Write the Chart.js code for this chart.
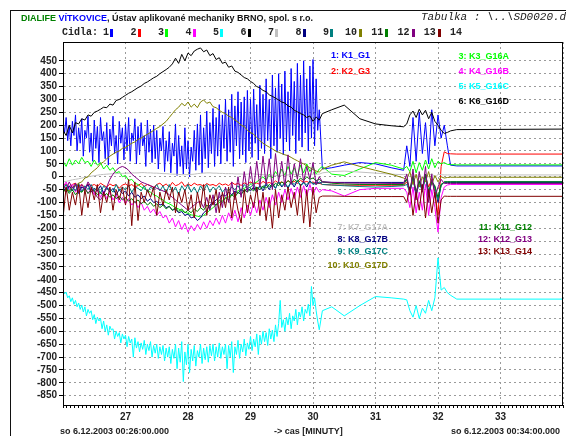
<!DOCTYPE html>
<html>
<head>
<meta charset="utf-8">
<script src="https://cdn.jsdelivr.net/npm/chart.js@4.4.1/dist/chart.umd.min.js"></script>
<style>
  body { margin: 0; background: #fff; }
  #wrap { position: relative; width: 566px; height: 436px; overflow: hidden; font-family: Arial, "Liberation Sans", sans-serif; }
  #frame { position: absolute; left: 10px; top: 10px; width: 600px; height: 500px; border: 1px solid #111; }
  #chart { position: absolute; left: 0; top: 0; }
  .t { position: absolute; white-space: nowrap; font-weight: bold; line-height: 12px; }
  .mono { font-family: "Liberation Mono", "Courier New", monospace; }
  .bar { position: absolute; width: 3px; height: 8px; top: 29px; }
</style>
</head>
<body>
<div id="wrap">
  <div id="frame"></div>
  <canvas id="chart" width="566" height="436"></canvas>
  <div class="t" style="left:21px; top:12px; font-size:9px; color:#111;">
    <span style="color:#008000">DIALIFE</span> <span style="color:#0000ff">VÍTKOVICE</span>, Ústav aplikované mechaniky BRNO, spol. s r.o.
  </div>
  <div class="t mono" style="left:421px; top:11px; font-size:11px; font-style:italic; font-weight:normal; color:#222;">Tabulka : \..\SD0020.db</div>
  <div class="t mono" style="left:62px; top:27px; font-size:10px; color:#222;">Cidla:</div>
  <div id="cidla"></div>
  <div id="labels"></div>
  <div class="t" style="left:60px; top:425px; font-size:9px; color:#222;">so 6.12.2003 00:26:00.000</div>
  <div class="t" style="left:274px; top:425px; font-size:9px; color:#222;">-&gt; cas [MINUTY]</div>
  <div class="t" style="right:6px; top:425px; font-size:9px; color:#222;">so 6.12.2003 00:34:00.000</div>
</div>
<script>
// time in minutes
const tMain = [
  26.00,26.05,26.10,26.15,26.20,26.25,26.30,26.35,26.40,26.45,
  26.50,26.55,26.60,26.65,26.70,26.75,26.80,26.85,26.90,26.95,
  27.00,27.05,27.10,27.15,27.20,27.25,27.30,27.35,27.40,27.45,
  27.50,27.55,27.60,27.65,27.70,27.75,27.80,27.85,27.90,27.95,
  28.00,28.05,28.10,28.15,28.20,28.25,28.30,28.35,28.40,28.45,
  28.50,28.55,28.60,28.65,28.70,28.75,28.80,28.85,28.90,28.95,
  29.00,29.05,29.10,29.15,29.20,29.25,29.30,29.35,29.40,29.45,
  29.50,29.55,29.60,29.65,29.70,29.75,29.80,29.85,29.90,29.95,
  30.00,30.05,30.10
];
// finer sampling for the two noisiest channels (K1, K5)
const tFine = [
  26.000,26.025,26.050,26.075,26.100,26.125,26.150,26.175,26.200,26.225,26.250,26.275,26.300,26.325,26.350,26.375,26.400,26.425,26.450,26.475,
  26.500,26.525,26.550,26.575,26.600,26.625,26.650,26.675,26.700,26.725,26.750,26.775,26.800,26.825,26.850,26.875,26.900,26.925,26.950,26.975,
  27.000,27.025,27.050,27.075,27.100,27.125,27.150,27.175,27.200,27.225,27.250,27.275,27.300,27.325,27.350,27.375,27.400,27.425,27.450,27.475,
  27.500,27.525,27.550,27.575,27.600,27.625,27.650,27.675,27.700,27.725,27.750,27.775,27.800,27.825,27.850,27.875,27.900,27.925,27.950,27.975,
  28.000,28.025,28.050,28.075,28.100,28.125,28.150,28.175,28.200,28.225,28.250,28.275,28.300,28.325,28.350,28.375,28.400,28.425,28.450,28.475,
  28.500,28.525,28.550,28.575,28.600,28.625,28.650,28.675,28.700,28.725,28.750,28.775,28.800,28.825,28.850,28.875,28.900,28.925,28.950,28.975,
  29.000,29.025,29.050,29.075,29.100,29.125,29.150,29.175,29.200,29.225,29.250,29.275,29.300,29.325,29.350,29.375,29.400,29.425,29.450,29.475,
  29.500,29.525,29.550,29.575,29.600,29.625,29.650,29.675,29.700,29.725,29.750,29.775,29.800,29.825,29.850,29.875,29.900,29.925,29.950,29.975,
  30.000,30.025,30.050,30.075,30.100
];
const tLate = [30.15,30.30,30.50,30.75,31.00,31.25,31.45,31.50,31.55,31.60,31.65,31.70,
  31.75,31.80,31.85,31.90,31.95,32.00,32.05,32.10,32.15,32.20,32.30,34.00];

const k1 = [
  210,170,230,140,200,120,215,160,240,100,190,130,225,80,180,150,235,95,170,60,
  220,110,195,55,230,140,175,70,210,45,185,120,235,90,160,50,215,130,190,65,
  205,100,230,60,170,140,225,50,195,85,210,120,160,40,220,95,185,55,200,70,
  180,30,150,100,195,20,140,60,175,15,130,80,205,5,160,40,120,10,190,30,
  140,0,115,60,180,25,205,45,240,15,190,70,255,35,210,90,265,40,230,80,
  280,50,240,110,300,60,260,95,320,40,275,120,330,70,290,85,310,55,335,100,
  300,75,340,130,280,65,355,110,320,90,380,140,300,70,395,120,345,95,400,150,
  360,85,410,135,330,100,420,160,370,90,440,140,395,115,450,170,380,100,430,150,
  455,120,380,180,260,
  30,35,45,55,50,35,25,120,40,230,60,250,90,210,50,260,120,240,150,200,120,45,42,42
];
const k2 = [
  -35,-28,-40,-30,-25,-38,-30,-42,-28,-35,
  -30,-38,-25,-33,-40,-28,-35,-30,-45,-32,
  -28,-36,-30,-40,-34,-26,-38,-30,-35,-42,
  -30,-25,-36,-28,-40,-22,-35,-30,-20,-38,
  -28,-35,-25,-32,-30,-38,-26,-33,-30,-36,
  -25,-32,-28,-35,-22,-30,-26,-34,-24,-30,
  -20,-28,-24,-30,-18,-26,-22,-28,-16,-25,
  -20,-27,-15,-24,-18,-26,-14,-22,-18,-25,
  -20,-28,-25,
  -30,-32,-33,-33,-33,-33,-33,-20,-50,-10,-60,-20,-50,0,-40,-10,-60,-150,40,97,90,89,88,88
];
const k3 = [
  60,40,70,45,65,50,75,55,60,40,
  65,45,55,30,45,25,35,15,20,0,
  5,-15,-10,-25,-30,-40,-45,-55,-60,-70,
  -75,-85,-90,-100,-105,-112,-120,-125,-132,-138,
  -142,-148,-150,-153,-156,-150,-140,-130,-120,-110,
  -100,-92,-85,-78,-70,-62,-55,-50,-45,-38,
  -30,-25,-20,-10,0,-15,10,-5,20,0,
  30,5,40,10,35,0,45,15,50,20,
  40,10,30,
  40,10,5,30,55,45,30,40,20,60,15,55,25,65,30,70,35,60,50,55,48,47,46,46
];
const k4 = [
  -40,-20,-50,-30,-60,-35,-55,-40,-65,-45,
  -70,-50,-80,-55,-85,-60,-90,-70,-100,-80,
  -105,-85,-110,-95,-120,-100,-130,-115,-140,-125,
  -150,-135,-160,-150,-180,-160,-195,-170,-205,-180,
  -215,-190,-210,-185,-205,-175,-200,-170,-190,-160,
  -185,-150,-180,-140,-170,-130,-175,-120,-160,-110,
  -150,-100,-140,-90,-130,-80,-120,-70,-110,-60,
  -100,-50,-90,-45,-85,-40,-80,-35,-75,-30,
  -70,-40,-60,
  -50,-55,-75,-50,-45,-45,-45,-60,-120,-40,-140,-60,-130,-30,-150,-50,-120,-215,-80,-40,-32,-30,-30,-30
];
const k5 = [
  -440,-455,-448,-470,-462,-485,-470,-495,-480,-505,-490,-515,-498,-525,-505,-540,-515,-530,-520,-555,
  -535,-570,-545,-560,-550,-590,-560,-600,-575,-615,-580,-595,-590,-630,-600,-620,-605,-645,-610,-630,
  -615,-660,-620,-645,-630,-700,-625,-665,-640,-680,-645,-670,-635,-690,-650,-675,-640,-700,-655,-685,
  -650,-705,-660,-690,-655,-715,-665,-700,-660,-725,-670,-705,-650,-745,-665,-720,-640,-795,-680,-730,
  -650,-760,-670,-715,-655,-735,-675,-700,-650,-725,-665,-710,-660,-720,-655,-695,-650,-715,-660,-700,
  -645,-705,-660,-690,-650,-745,-655,-700,-640,-760,-660,-690,-635,-705,-650,-680,-630,-695,-645,-670,
  -620,-675,-630,-660,-610,-690,-615,-650,-600,-640,-605,-655,-590,-630,-595,-640,-575,-620,-570,-480,
  -585,-555,-600,-545,-575,-530,-590,-540,-560,-515,-575,-525,-545,-505,-560,-515,-530,-495,-540,-426,
  -500,-470,-520,-560,-594,
  -520,-505,-540,-500,-465,-470,-475,-478,-520,-545,-500,-550,-510,-530,-480,-520,-470,-315,-440,-430,-450,-460,-475,-475
];
const k6 = [
  180,160,200,170,210,205,225,220,240,235,
  250,255,262,270,268,282,278,296,300,308,
  316,324,330,338,346,352,362,368,376,384,
  390,400,408,416,425,438,460,440,475,450,
  480,470,488,495,500,485,492,470,478,455,
  462,440,445,425,430,410,405,395,385,380,
  370,362,350,345,335,330,318,312,305,298,
  290,286,275,270,258,252,245,240,230,236,
  215,232,220,
  245,260,278,225,205,198,194,205,240,255,230,262,240,258,225,250,215,200,180,168,172,178,183,185
];
const k7 = [
  -20,-18,-15,-12,-10,-8,-5,-3,0,2,
  4,6,8,9,10,11,12,12,13,13,
  14,14,15,15,15,16,16,15,15,14,
  14,13,12,12,11,10,10,9,8,8,
  8,9,10,12,13,14,15,15,14,14,
  13,13,12,12,12,11,11,11,10,10,
  12,11,10,9,8,7,6,6,5,5,
  5,6,7,8,8,9,9,10,10,10,
  10,10,10,
  15,20,22,18,14,10,8,10,0,15,-5,12,-10,8,0,14,-5,10,8,7,7,7,7,7
];
const k8 = [
  -40,-60,-35,-55,-30,-65,-40,-50,-30,-60,
  -45,-55,-35,-65,-40,-60,-45,-70,-50,-65,
  -55,-75,-60,-80,-70,-85,-75,-95,-85,-100,
  -95,-110,-105,-120,-115,-130,-125,-140,-135,-150,
  -145,-160,-155,-170,-160,-140,-130,-110,-100,-90,
  -80,-70,-75,-60,-70,-55,-65,-50,-60,-45,
  -55,-40,-60,-35,-55,-30,-50,-25,-45,-20,
  -40,-25,-45,-20,-40,-15,-35,-20,-40,-15,
  -30,-20,-25,
  -20,-22,-22,-22,-22,-22,-22,-10,-60,0,-70,-20,-50,10,-80,-15,-40,-100,-30,-22,-22,-22,-22,-22
];
const k9 = [
  -50,-30,-60,-40,-55,-25,-60,-35,-50,-30,
  -55,-40,-65,-35,-50,-45,-60,-30,-55,-40,
  -50,-35,-60,-40,-45,-55,-35,-60,-40,-50,
  -30,-55,-35,-65,-30,-60,-40,-70,-35,-55,
  -30,-60,-40,-65,-35,-55,-30,-60,-40,-50,
  -35,-60,-45,-55,-40,-50,-35,-55,-30,-45,
  -40,-30,-50,-35,-45,-25,-40,-30,-45,-20,
  -35,-25,-40,-20,-30,-15,-35,-25,-30,-20,
  -25,-30,-20,
  -30,-32,-35,-38,-40,-38,-35,-30,-60,-10,-70,-25,-55,-5,-65,-20,-45,-90,-35,-20,-19,-19,-19,-19
];
const k10 = [
  -60,-50,-55,-40,-35,-25,-20,-5,0,15,
  25,35,50,58,70,80,88,95,100,110,
  115,122,130,135,145,150,158,165,172,180,
  188,195,205,215,230,245,260,270,285,275,
  290,270,282,268,290,298,285,290,272,268,
  258,250,245,235,230,220,212,200,195,180,
  172,165,152,140,130,122,115,108,100,95,
  90,85,82,75,68,62,55,50,42,35,
  28,22,18,
  30,45,58,40,25,10,-5,-10,20,-30,10,-40,0,-20,20,-30,5,-20,0,-5,-3,-2,-2,-2
];
const k11 = [
  -60,-45,-65,-50,-70,-55,-60,-45,-65,-50,
  -55,-70,-60,-75,-65,-80,-70,-85,-75,-90,
  -80,-95,-85,-100,-90,-105,-95,-110,-100,-115,
  -105,-120,-110,-125,-115,-130,-120,-135,-125,-140,
  -130,-140,-125,-135,-120,-130,-110,-120,-100,-110,
  -90,-100,-80,-90,-70,-80,-60,-70,-50,-60,
  -45,-55,-40,-50,-35,-45,-30,-40,-25,-35,
  -20,-30,-15,-25,-10,-20,-5,-15,0,-10,
  -5,-15,-10,
  -20,-25,-28,-30,-30,-30,-30,-10,-50,5,-60,-15,-45,10,-55,-20,-35,-80,-30,-20,-20,-20,-20,-20
];
const k12 = [
  -30,-50,-20,-45,-25,-60,-30,-50,-20,-40,
  -60,-80,-90,-70,-40,-10,10,25,35,40,
  35,25,10,0,-10,-20,-25,-30,-35,-40,
  -45,-50,-55,-60,-70,-80,-90,-100,-110,-120,
  -130,-120,-110,-100,-95,-120,-80,-130,-70,-140,
  -60,-120,-40,-100,-20,-90,0,-80,20,-60,
  40,-50,60,-40,80,-30,70,-50,90,-20,
  60,-40,85,-30,50,-10,70,-20,40,-10,
  55,-30,0,
  -20,-22,-24,-25,-25,-26,-26,10,-70,30,-90,20,-60,40,-100,10,-80,-40,-10,-26,-26,-26,-26,-26
];
const k13 = [
  -160,-40,-130,-60,-110,-30,-150,-50,-120,-40,
  -90,-30,-140,-60,-100,-40,-130,-50,-90,-40,
  -110,-10,-190,-20,-170,-60,-100,-50,-80,-40,
  -150,-60,-110,-50,-90,-40,-140,-60,-100,-50,
  -130,-70,-160,-60,-120,-30,-150,-70,-110,-50,
  -140,-60,-120,-40,-160,-60,-130,-180,-50,-140,
  -70,-120,-40,-150,-60,-170,-80,-200,-50,-160,
  -70,-130,-40,-120,-60,-150,-30,-180,-50,-195,
  -40,-140,-80,
  -75,-75,-76,-77,-77,-77,-77,-100,-40,-150,-60,-130,-30,-160,-50,-140,-60,-180,-90,-75,-76,-76,-76,-76
];

const seriesValues = [k1, k2, k3, k4, k5, k6, k7, k8, k9, k10, k11, k12, k13];
const seriesNames = ['K1_G1','K2_G3','K3_G16A','K4_G16B','K5_G16C','K6_G16D','K7_G17A',
  'K8_G17B','K9_G17C','K10_G17D','K11_G12','K12_G13','K13_G14'];
const seriesColors = ['#0000ff','#ff0000','#00ff00','#ff00ff','#00ffff','#000000','#c0c0c0',
  '#000080','#008080','#808000','#008000','#800080','#800000'];
const sensorNumbers = [1,2,3,4,5,6,7,8,9,10,11,12,13,14];

const yTicks = [450,400,350,300,250,200,150,100,50,0,-50,-100,-150,-200,-250,-300,
  -350,-400,-450,-500,-550,-600,-650,-700,-750,-800,-850];
const xLabels = [27,28,29,30,31,32,33];

const tAll = tMain.concat(tLate);
const tFineAll = tFine.concat(tLate);
const seriesTimes = seriesValues.map(v => (v === k1 || v === k5) ? tFineAll : tAll);
seriesValues.forEach((v, i) => {
  if (v.length !== seriesTimes[i].length) throw new Error('series ' + (i + 1) + ' has ' + v.length + ' values');
});

// sensor row "Cidla: 1 2 3 ..."
const cidla = document.getElementById('cidla');
sensorNumbers.forEach((n, i) => {
  const left = i < 9 ? 103 + i * 27.5 : 345 + (i - 9) * 26.25;
  const s = document.createElement('div');
  s.className = 't mono';
  s.style.cssText = `left:${left}px; top:27px; font-size:10px; color:#222;`;
  s.textContent = n;
  cidla.appendChild(s);
  if (seriesColors[i]) {
    const b = document.createElement('div');
    b.className = 'bar';
    b.style.left = (left + (n < 10 ? 7 : 14)) + 'px';
    b.style.background = seriesColors[i];
    cidla.appendChild(b);
  }
});

// labels inside the plot, right edge x and centre y
const labelPos = [[370,55],[370,71],[509,56],[509,71],[509,86],[509,101],
  [388,227],[388,239],[388,251],[388,265],[532,227],[532,239],[532,251]];
const labels = document.getElementById('labels');
seriesNames.forEach((name, i) => {
  const d = document.createElement('div');
  d.className = 't';
  d.style.cssText = `right:${566 - labelPos[i][0]}px; top:${labelPos[i][1] - 6}px; font-size:9px; color:${seriesColors[i]};`;
  d.textContent = (i + 1) + ': ' + name;
  labels.appendChild(d);
});

const isWhole = v => Math.abs(v - Math.round(v)) < 1e-6;

const plotFrame = {
  id: 'plotFrame',
  afterDraw(chart) {
    const { ctx, chartArea: a } = chart;
    ctx.save();
    ctx.strokeStyle = '#000';
    ctx.lineWidth = 1;
    ctx.strokeRect(Math.round(a.left) + 0.5, Math.round(a.top) + 0.5,
      Math.round(a.right - a.left) - 1, Math.round(a.bottom - a.top));
    ctx.restore();
  }
};

Chart.defaults.font.family = 'Arial, "Liberation Sans", sans-serif';

new Chart(document.getElementById('chart'), {
  type: 'line',
  data: {
    datasets: seriesValues.map((vals, i) => ({
      label: seriesNames[i],
      data: seriesTimes[i].map((t, j) => ({ x: t, y: vals[j] })),
      borderColor: seriesColors[i],
      backgroundColor: seriesColors[i],
      borderWidth: 1,
      pointRadius: 0,
      tension: 0,
      order: -i
    }))
  },
  options: {
    responsive: false,
    animation: false,
    layout: { padding: { top: 42, right: 3, left: 0, bottom: 0 } },
    plugins: { legend: { display: false }, tooltip: { enabled: false } },
    scales: {
      x: {
        type: 'linear',
        min: 26,
        max: 34,
        afterBuildTicks: axis => {
          const ticks = [];
          for (let k = 0; k <= 128; k++) ticks.push({ value: 26 + k / 16 });
          axis.ticks = ticks;
        },
        afterFit: s => { s.height = 31; },
        ticks: {
          autoSkip: false,
          maxRotation: 0,
          padding: 3,
          color: '#222',
          font: { size: 10, weight: 'bold' },
          callback: v => (isWhole(v) && xLabels.includes(Math.round(v))) ? String(Math.round(v)) : ''
        },
        grid: {
          color: c => (c.tick && isWhole(c.tick.value)) ? '#9a9a9a' : 'rgba(0,0,0,0)',
          tickColor: '#000',
          tickLength: 3
        },
        border: { color: '#000', width: 1, dash: [2, 3] }
      },
      y: {
        min: -886,
        max: 523,
        afterBuildTicks: axis => { axis.ticks = yTicks.map(v => ({ value: v })); },
        afterFit: s => { s.width = 63; },
        ticks: {
          autoSkip: false,
          padding: 2,
          color: '#222',
          font: { size: 10, weight: 'bold' }
        },
        grid: {
          color: '#9a9a9a',
          tickColor: '#000',
          tickLength: 4
        },
        border: { color: '#000', width: 1, dash: [2, 3] }
      }
    }
  },
  plugins: [plotFrame]
});
</script>
</body>
</html>
